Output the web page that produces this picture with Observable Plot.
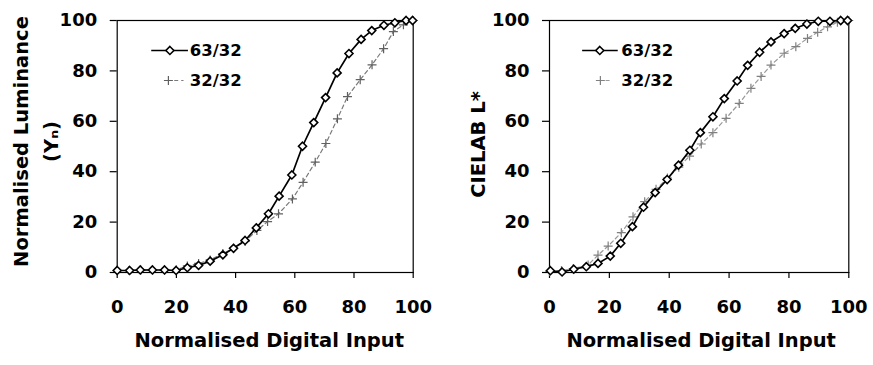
<!DOCTYPE html>
<html>
<head>
<meta charset="utf-8">
<script src="https://cdn.jsdelivr.net/npm/d3@7"></script>
<script src="https://cdn.jsdelivr.net/npm/@observablehq/plot@0.6"></script>
<style>
  html, body { margin: 0; padding: 0; background: #fff; }
  #wrap { display: flex; width: 873px; height: 365px; overflow: hidden; }
  svg { overflow: visible; }
</style>
</head>
<body>
<div id="wrap"></div>
<script>
// ---- Data ----
const seriesNames = ["63/32", "32/32"];
const xTicks = [0, 20, 40, 60, 80, 100];
const yTicks = [0, 20, 40, 60, 80, 100];

// Left panel: Normalised Luminance (Yn)
const lumX63 = [0,4.2,7.8,11.9,16,19.9,23.7,27.5,31.4,35.7,39.3,43.2,47,51.1,54.7,59,62.6,66.4,70.4,74.3,78.3,82.4,86,90.1,93.8,97.6,99.8];
const lumY63 = [0.8,0.8,1,1,1,0.8,1.9,2.8,4.5,7,9.6,12.7,17.7,23.3,30.3,38.7,50.1,59.5,69.4,79.2,86.9,92.5,96,98.1,99.1,100,100];
const lumX32 = [0,4,8,12,16,20,23.7,27.5,31.4,35.7,39.3,43.2,47.2,50.8,54.5,59.2,62.8,66.9,70.5,74.4,77.8,82.1,86.1,90,93.3,96.7,100];
const lumY32 = [0.8,0.8,1,1,1,1,2.6,3.6,5,7.5,9.6,12.3,16.7,20.2,23.3,29.2,35.8,43.8,51.2,61,69.8,76.5,82.4,88.8,95.6,98.3,100];

// Right panel: CIELAB L*
const labX63 = [0.3,4.2,8.1,12.3,16.2,20.3,23.8,27.7,31.4,35.3,39.3,43.1,46.9,50.4,54.6,58.4,62.7,66.2,70.2,74,78.4,82.1,86,89.8,93.7,97.3,99.6];
const labY63 = [0.7,0.2,1.3,2.3,3.6,6.5,11.6,18.2,25.9,31.7,36.9,42.6,48.5,55.5,61.8,69,76,82.2,87.4,91.5,94.8,96.9,98.6,99.7,99.7,100,100];
const labX32 = [0,4,7.9,12.9,16.2,19.6,24,27.9,31.8,35.6,39.4,43.2,46.8,50.7,54.6,59,63.4,67.3,70.7,74,78.4,82.3,86.2,89.6,92.9,96.2,100];
const labY32 = [0.5,0.8,1.5,3,6.9,10.5,15.8,22.1,28.1,33,37.5,41.8,46.2,51,55.5,61.2,67.1,73.1,77.8,82.3,87,89.6,92.9,95.3,97.5,99.3,100];

const xTitle = "Normalised Digital Input";
const yTitleLeft = "Normalised Luminance\n(Yₙ)";
const yTitleRight = "CIELAB L*";

// ---- Drawing ----
const FONT = "DejaVu Sans";
const zip = (xs, ys) => xs.map((x, i) => ({x, y: ys[i]}));

function panel(o) {
  const d63 = zip(o.x63, o.y63);
  const d32 = zip(o.x32, o.y32);
  const L = o.legend; // legend layout in data units
  return Plot.plot({
    width: o.width, height: 365,
    marginTop: 20, marginBottom: 93, marginLeft: o.ml, marginRight: o.mr,
    style: {fontFamily: FONT, fontWeight: "bold", fontSize: "18px", color: "#000", background: "#fff", overflow: "visible"},
    x: {domain: [0, 100]},
    y: {domain: [0, 100]},
    marks: [
      Plot.frame({stroke: "#000", strokeWidth: 1.2}),
      Plot.axisX({ticks: xTicks, tickSize: 6, tickPadding: 22, label: null, stroke: "#000", strokeWidth: 1.2, fontSize: 18}),
      Plot.axisY({ticks: yTicks, tickSize: 7, tickPadding: 13, label: null, stroke: "#000", strokeWidth: 1.2, fontSize: 18}),
      // 32/32
      Plot.line(d32, {x: "x", y: "y", stroke: o.c32line, strokeWidth: 1.2, strokeDasharray: "4,3"}),
      Plot.dot(d32, {x: "x", y: "y", symbol: "plus", stroke: o.c32dot, strokeWidth: 1.2, r: 3}),
      // 63/32
      Plot.line(d63, {x: "x", y: "y", stroke: "#000", strokeWidth: 1.7}),
      Plot.dot(d63, {x: "x", y: "y", symbol: "diamond2", fill: "#fff", stroke: "#000", strokeWidth: 1.6, r: 3.6}),
      // legend
      Plot.link([0], {x1: L.a1, x2: L.a2, y1: L.ya, y2: L.ya, stroke: "#000", strokeWidth: 1.7}),
      Plot.dot([0], {x: L.am, y: L.ya, symbol: "diamond2", fill: "#fff", stroke: "#000", strokeWidth: 1.6, r: 3.6}),
      Plot.link([0], {x1: L.b1, x2: L.b2, y1: L.yb, y2: L.yb, stroke: o.c32line, strokeWidth: 1.2, strokeDasharray: "4,3"}),
      Plot.dot([0], {x: L.bm, y: L.yb, symbol: "plus", stroke: o.c32dot, strokeWidth: 1.2, r: 3}),
      Plot.text(seriesNames, {x: L.tx, y: (d, i) => i === 0 ? L.ya : L.yb, textAnchor: "start", lineAnchor: "middle", fontSize: 16.5, fontWeight: "bold", fill: "#000"}),
      // titles
      Plot.text([xTitle], {frameAnchor: "bottom", textAnchor: "middle", lineAnchor: "top", dx: o.xtDx, dy: 61, fontSize: 19.5, fontWeight: "bold", fill: "#000"}),
      Plot.text([o.yTitle], {frameAnchor: "left", textAnchor: "middle", lineAnchor: "middle", rotate: -90, dx: o.ytDx, dy: o.ytDy, lineHeight: 1.54, fontSize: 19.5, fontWeight: "bold", fill: "#000"})
    ]
  });
}

const wrap = document.getElementById("wrap");
wrap.appendChild(panel({
  width: 436, ml: 116.7, mr: 23.3,
  x63: lumX63, y63: lumY63, x32: lumX32, y32: lumY32,
  c32line: "#7a7a7a", c32dot: "#606060",
  yTitle: yTitleLeft, ytDx: -83.7, ytDy: -5, xtDx: 4,
  legend: {a1: 11.5, a2: 23.9, am: 17.8, ya: 88.1, b1: 16.9, b2: 22.4, bm: 17.3, yb: 76.2, tx: 24.5}
}));
wrap.appendChild(panel({
  width: 437, ml: 113, mr: 24.7,
  x63: labX63, y63: labY63, x32: labX32, y32: labY32,
  c32line: "#999", c32dot: "#808080",
  yTitle: yTitleRight, ytDx: -74, ytDy: -2, xtDx: 2,
  legend: {a1: 10.9, a2: 22.8, am: 16.8, ya: 88.1, b1: 16.4, b2: 21.0, bm: 17.0, yb: 76.2, tx: 24.0}
}));
</script>
</body>
</html>
